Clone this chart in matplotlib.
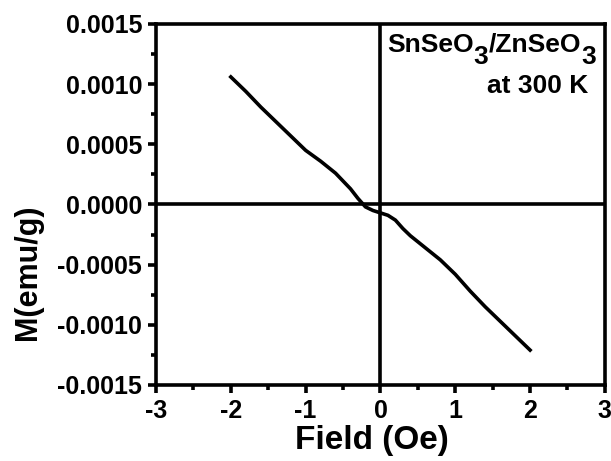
import matplotlib
matplotlib.use("Agg")
import matplotlib.pyplot as plt
from matplotlib.ticker import MultipleLocator, FormatStrFormatter

plt.rcParams['font.family'] = ['Liberation Sans', 'DejaVu Sans']
plt.rcParams['font.weight'] = 'bold'
plt.rcParams['axes.unicode_minus'] = False

# M-H data at 300 K
field = [-2.0, -1.8, -1.6, -1.4, -1.2, -1.0, -0.8, -0.6, -0.4, -0.3, -0.2,
         -0.1, 0.0, 0.1, 0.2, 0.3, 0.4, 0.6, 0.8, 1.0, 1.2, 1.4, 1.6, 1.8, 2.0]
moment = [0.00106, 0.00094, 0.00081, 0.00069, 0.00057, 0.00045, 0.00036,
          0.00026, 0.00013, 0.00005, -0.00002, -0.00005, -0.00007, -0.00009,
          -0.00013, -0.00020, -0.00026, -0.00036, -0.00046, -0.00058,
          -0.00072, -0.00085, -0.00097, -0.00109, -0.00121]

W, H = 611, 461
fig = plt.figure(figsize=(W / 100, H / 100), dpi=100)
ax = fig.add_axes([0.2553, 0.1649, 0.7347, 0.7831])

# zero lines
ax.axhline(0, color='black', lw=2.6, zorder=1)
ax.axvline(0, color='black', lw=2.6, zorder=1)
ax.plot(field, moment, color='black', lw=2.6, zorder=2)

ax.set_xlim(-3, 3)
ax.set_ylim(-0.0015, 0.0015)
ax.xaxis.set_major_locator(MultipleLocator(1))
ax.xaxis.set_minor_locator(MultipleLocator(0.5))
ax.yaxis.set_major_locator(MultipleLocator(0.0005))
ax.yaxis.set_minor_locator(MultipleLocator(0.00025))
ax.yaxis.set_major_formatter(FormatStrFormatter('%.4f'))
ax.xaxis.set_major_formatter(FormatStrFormatter('%d'))

for s in ax.spines.values():
    s.set_linewidth(2.6)
ax.tick_params(which='major', direction='out', length=6, width=2.6,
               labelsize=18, pad=4, top=False, right=False)
ax.tick_params(which='minor', direction='out', length=3.8, width=2.6,
               top=False, right=False)
for lab in ax.get_xticklabels() + ax.get_yticklabels():
    lab.set_fontweight('bold')

ax.set_xlabel('Field (Oe)', fontsize=24, fontweight='bold')
ax.set_ylabel('M(emu/g)', fontsize=22, fontweight='bold')
ax.xaxis.set_label_coords(0.481, -0.112)
ax.yaxis.set_label_coords(-0.252, 0.313)

# sample label with full-size lowered "3"
r = fig.canvas.get_renderer()
x0 = 387
for piece, dy in [('SnSeO', 0), ('3', 12), ('/ZnSeO', 0), ('3', 12)]:
    t = fig.text(x0 / W, 1 - (52 + dy) / H, piece, ha='left', va='baseline',
                 fontsize=19, fontweight='bold')
    x0 = t.get_window_extent(renderer=r).x1
fig.text(588 / W, 1 - 93 / H, 'at 300 K', ha='right', va='baseline',
         fontsize=19, fontweight='bold')

fig.savefig('out.png', dpi=100)
